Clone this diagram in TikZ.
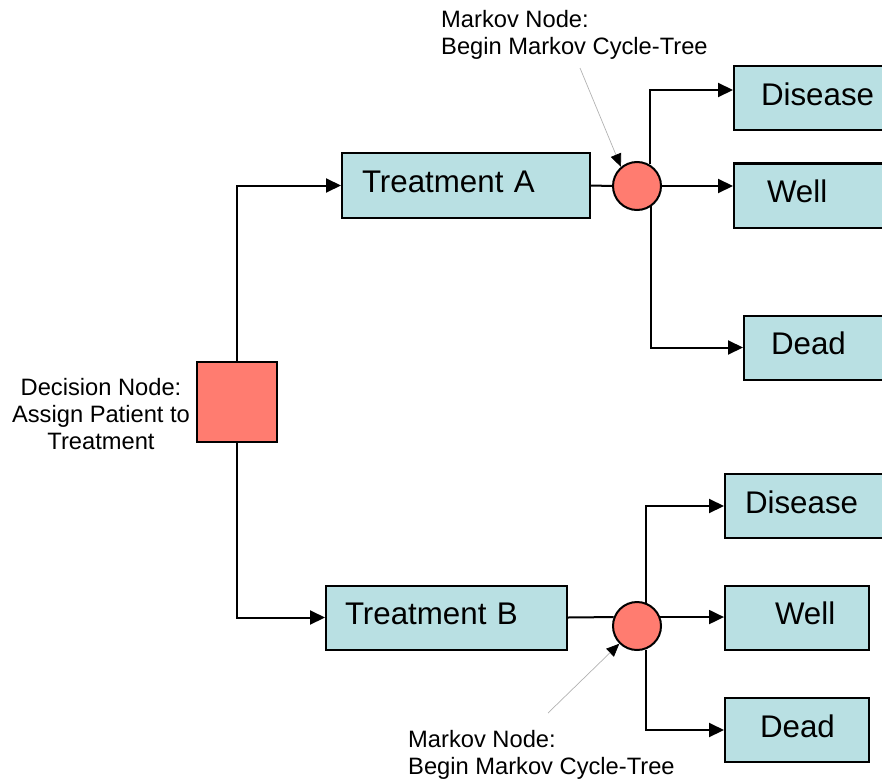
\documentclass[tikz,border=0pt]{standalone}
\usepackage{fontspec}
\setmainfont{Liberation Sans}
\usetikzlibrary{arrows.meta}
\definecolor{boxfill}{RGB}{185,224,227}
\definecolor{salmon}{RGB}{255,124,112}
\newcommand{\boxfont}{\fontsize{31.3}{36}\selectfont}
\newcommand{\notefont}{\fontsize{23.7}{27}\selectfont}

\begin{document}
\begin{tikzpicture}[x=1pt, y=-1pt,
    box/.style={draw, line width=2pt, fill=boxfill, anchor=west, inner xsep=0pt, inner ysep=0pt,
                minimum height=64pt, text depth=8pt, align=left, font=\boxfont, text width=#1},
    pad/.style={execute at begin node={\hspace*{#1}}},
    decision/.style={draw, line width=2pt, fill=salmon, minimum size=80pt, inner sep=0pt},
    markov/.style={circle, draw, line width=2pt, fill=salmon, minimum size=48pt, inner sep=0pt},
    note/.style={font=\notefont, inner sep=0pt},
    wire/.style={line width=2pt},
    link/.style={line width=2pt, -{Triangle[length=15pt, width=14pt]}},
    pointer/.style={draw=gray!60, line width=0.7pt, -{Triangle[length=13pt, width=11pt, color=black]}}]

    % 画布
    \path[use as bounding box, clip] (0,0) rectangle (882,778);

    % 决策节点
    \node[decision] (dec) at (237,402) {};
    \node[note, anchor=north, align=center] (decnote) at (101,378)
        {Decision Node:\\Assign Patient to\\Treatment};

    % 治疗方案
    \node[box=248pt, pad=20pt] (trA) at (341,185.5) {Treatment A};
    \node[box=241pt, pad=19pt] (trB) at (325,617.5) {Treatment B};

    % Markov 节点
    \node[markov] (cA) at (637,186) {};
    \node[markov] (cB) at (637,626) {};

    % 状态 (A)
    \node[box=190pt, pad=27pt] (disA) at (733,98) {Disease};
    \node[box=190pt, pad=33pt] (wellA) at (733,195.5) {Well};
    \node[box=180pt, pad=27pt] (deadA) at (743,347.5) {Dead};

    % 状态 (B)
    \node[box=200pt, pad=20pt] (disB) at (724,506) {Disease};
    \node[box=144pt, pad=50pt] (wellB) at (724,617.5) {Well};
    \node[box=144pt, pad=35pt] (deadB) at (724,730) {Dead};

    % 连线
    \draw[link] (dec.north) |- (trA.west);
    \draw[link] (dec.south) |- (trB.west);
    \draw[wire] (trA.east) -- (cA.west);
    \draw[wire] (trB.east) -- (cB.159);
    \draw[link] (cA.60) |- ([yshift=8pt]disA.west);
    \draw[link] (cA.east) -- (cA.east -| wellA.west);
    \draw[link] (cA.-55) |- (deadA.west);
    \draw[link] (cB.70) |- (disB.west);
    \draw[link] (cB.21) -- (cB.21 -| wellB.west);
    \draw[link] (cB.-70) |- (deadB.west);

    % 标注
    \node[note, anchor=north west, align=left] (noteA) at (441,10)
        {Markov Node:\\Begin Markov Cycle-Tree};
    \node[note, anchor=north west, align=left] (noteB) at (408,730)
        {Markov Node:\\Begin Markov Cycle-Tree};
    \coordinate (ptA) at (580,68);
    \coordinate (ptB) at (548,713);
    \draw[pointer] (ptA) -- (cA.130);
    \draw[pointer] (ptB) -- (cB.225);
\end{tikzpicture}
\end{document}
